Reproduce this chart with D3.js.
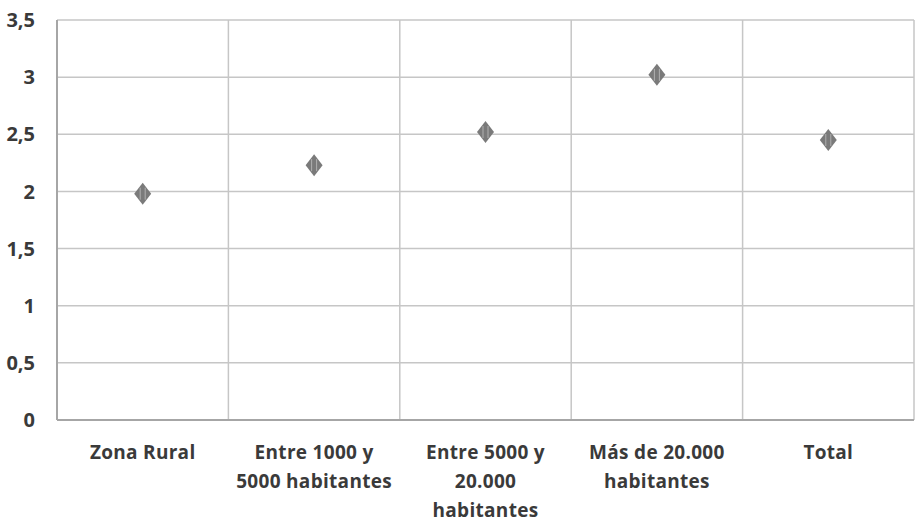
<!DOCTYPE html>
<html><head><meta charset="utf-8">
<script src="https://cdn.jsdelivr.net/npm/d3@7"></script>
<style>body{margin:0;background:#fff;}text{font-family:"Open Sans",Lato,sans-serif;font-weight:700;fill:#3a3a3a;}</style>
</head><body><svg id="c" width="919" height="523"></svg>
<script>
const categories = ["Zona Rural","Entre 1000 y 5000 habitantes","Entre 5000 y 20.000 habitantes","Más de 20.000 habitantes","Total"];
const categoryLines = [["Zona Rural"],["Entre 1000 y","5000 habitantes"],["Entre 5000 y","20.000","habitantes"],["Más de 20.000","habitantes"],["Total"]];
const values = [1.98, 2.23, 2.52, 3.02, 2.45];
const yTicks = [0,0.5,1,1.5,2,2.5,3,3.5];

const svg = d3.select("#c");
const m = {l:57, r:5, t:20, b:103};
const W = 919, H = 523;
const x = d3.scaleBand().domain(categories).range([m.l, W-m.r]);
const y = d3.scaleLinear().domain([0,3.5]).range([H-m.b, m.t]);
const fmt = d => String(d).replace(".", ",");

svg.append("g").selectAll("line").data(yTicks).join("line")
  .attr("x1", m.l).attr("x2", W-m.r).attr("y1", d=>y(d)).attr("y2", d=>y(d))
  .attr("stroke", "#c6c6c6").attr("stroke-width", 1.5);
const bounds = categories.map(c => x(c)).concat([x(categories[categories.length-1]) + x.bandwidth()]);
svg.append("g").selectAll("line").data(bounds.slice(1)).join("line")
  .attr("x1", d=>d).attr("x2", d=>d).attr("y1", m.t).attr("y2", y(0))
  .attr("stroke", "#c6c6c6").attr("stroke-width", 1.5);
svg.append("line").attr("x1", m.l).attr("x2", m.l).attr("y1", m.t).attr("y2", y(0)).attr("stroke", "#a6a6a6").attr("stroke-width", 2);
svg.append("line").attr("x1", m.l).attr("x2", W-m.r).attr("y1", y(0)).attr("y2", y(0)).attr("stroke", "#a6a6a6").attr("stroke-width", 2);

svg.append("g").selectAll("text").data(yTicks).join("text")
  .attr("x", 35).attr("y", d=>y(d)).attr("dy", "0.36em").attr("text-anchor", "end")
  .attr("font-size", 20).text(fmt);

const xl = svg.append("g").selectAll("text").data(categories).join("text")
  .attr("x", d => x(d) + x.bandwidth()/2).attr("y", 459).attr("text-anchor", "middle")
  .attr("font-size", 19).attr("letter-spacing", 0.3);
xl.each(function(d,i){
  d3.select(this).selectAll("tspan").data(categoryLines[i]).join("tspan")
    .attr("x", x(d) + x.bandwidth()/2).attr("dy", (t,j)=> j===0 ? 0 : 29).text(t=>t);
});

const g = svg.append("g").selectAll("g").data(values).join("g")
  .attr("transform", (d,i)=>`translate(${x(categories[i]) + x.bandwidth()/2},${y(d)})`);
g.append("path").attr("d", "M0,-11 L8.5,0 L0,11 L-8.5,0 Z").attr("fill", "#7a7a7a");
g.append("line").attr("x1",-2.5).attr("x2",-2.5).attr("y1",-6).attr("y2",6).attr("stroke","#b0b0b0").attr("stroke-width",1);
g.append("line").attr("x1",2.5).attr("x2",2.5).attr("y1",-6).attr("y2",6).attr("stroke","#b0b0b0").attr("stroke-width",1);
</script></body></html>
